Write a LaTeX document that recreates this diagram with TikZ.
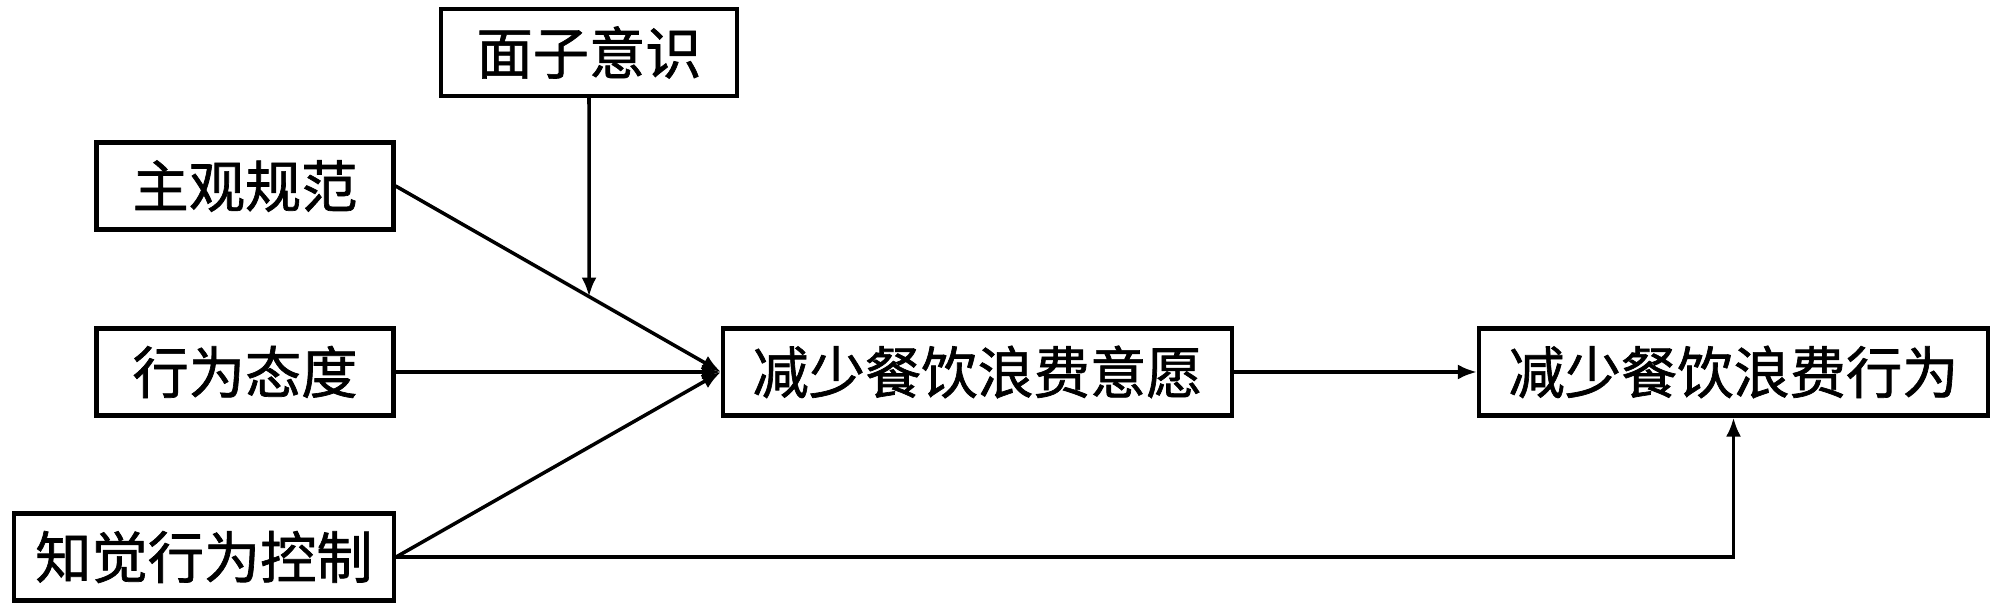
\documentclass[tikz,border=0pt]{standalone}
\usepackage{fontspec}
\usepackage{tikz}
\usetikzlibrary{arrows.meta,calc}
\newfontfamily\cjk[FakeBold=1.2]{Noto Sans CJK SC}

\begin{document}
\begin{tikzpicture}[
    box/.style={draw, line width=1.2pt, minimum height=0.87cm, inner sep=0pt, font=\cjk\fontsize{16}{19}\selectfont},
    arr/.style={line width=1pt, -{Latex[length=0.19cm, width=0.15cm]}}
  ]
    \useasboundingbox (0,0) rectangle (20,6.12);
    \node[box, minimum width=2.96cm] (mianzi) at (5.89,5.595) {面子意识};
    \node[box, minimum width=2.97cm] (zhuguan) at (2.45,4.26) {主观规范};
    \node[box, minimum width=2.97cm] (taidu) at (2.45,2.40) {行为态度};
    \node[box, minimum width=3.80cm] (kongzhi) at (2.04,0.55) {知觉行为控制};
    \node[box, minimum width=5.09cm] (yiyuan) at (9.775,2.40) {减少餐饮浪费意愿};
    \node[box, minimum width=5.09cm] (xingwei) at (17.335,2.40) {减少餐饮浪费行为};
    \coordinate (m0) at (mianzi.south |- yiyuan.west);
    \draw[arr] (zhuguan.east) -- (yiyuan.west);
    \draw[arr] (taidu.east) -- (yiyuan.west);
    \draw[arr] (kongzhi.east) -- (yiyuan.west);
    \draw[arr] (mianzi.south) -- (intersection of mianzi.south--m0 and zhuguan.east--yiyuan.west);
    \draw[arr] (yiyuan.east) -- (xingwei.west);
    \draw[arr] (kongzhi.east) -| (xingwei.south);
  \end{tikzpicture}
\end{document}
